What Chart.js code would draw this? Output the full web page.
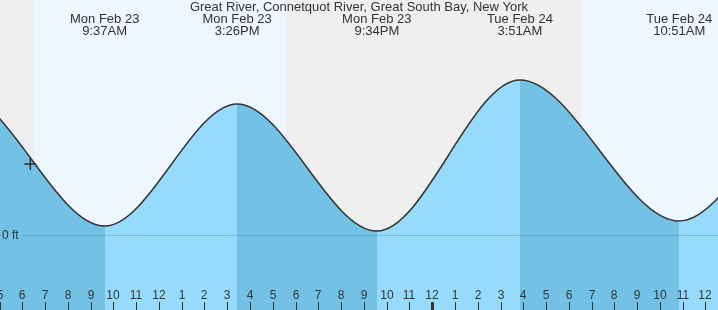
<!DOCTYPE html>
<html>
<head>
<meta charset="utf-8">
<script src="https://cdn.jsdelivr.net/npm/chart.js@4"></script>
<style>
html,body{margin:0;padding:0;background:#fff;overflow:hidden;}
#wrap{width:718px;height:310px;position:relative;}
</style>
</head>
<body>
<div id="wrap"><canvas id="c" width="718" height="310"></canvas></div>
<script>
// Hours counted from Mon Feb 23 00:00
const title = 'Great River, Connetquot River, Great South Bay, New York';
const extremeTimes   = [-3.1, 3.2, 9.617, 15.433, 21.567, 27.85, 34.85, 41.08, 47.3];
const extremeHeights = [0.12, 1.42, 0.09, 1.31, 0.04, 1.55, 0.14, 1.40, 0.12];
const labelTimes = [9.617, 15.433, 21.567, 27.85, 34.85];
const labelDates = ['Mon Feb 23', 'Mon Feb 23', 'Mon Feb 23', 'Tue Feb 24', 'Tue Feb 24'];
const labelClock = ['9:37AM', '3:26PM', '9:34PM', '3:51AM', '10:51AM'];
const nightStarts = [-8, 17.58];
const nightEnds   = [6.55, 30.53];
const tickHours = [5,6,7,8,9,10,11,12,13,14,15,16,17,18,19,20,21,22,23,24,25,26,27,28,29,30,31,32,33,34,35,36];
const tickLabels = tickHours.map(h => String((h % 12) || 12));
const nowTime = 6.35;
const nowHeight = 0.71;
const yLabel = '0 ft';

const DARK = '#73c1e5';
const LIGHT = '#97dbfc';
const FONT = '"Liberation Sans", Arial, sans-serif';

function fillGradient(ctx) {
  const chart = ctx.chart;
  const ca = chart.chartArea;
  const xs = chart.scales && chart.scales.x;
  if (!ca || !xs) return DARK;
  const g = chart.ctx.createLinearGradient(ca.left, 0, ca.right, 0);
  const w = ca.right - ca.left;
  const f = t => Math.min(1, Math.max(0, (xs.getPixelForValue(t) - ca.left) / w));
  for (let i = 0; i < extremeTimes.length - 1; i++) {
    const c = extremeHeights[i + 1] < extremeHeights[i] ? DARK : LIGHT;
    g.addColorStop(f(extremeTimes[i]), c);
    g.addColorStop(f(extremeTimes[i + 1]), c);
  }
  return g;
}

const bgPlugin = {
  id: 'bg',
  beforeDatasetsDraw(chart) {
    const {ctx, chartArea: ca} = chart;
    const xs = chart.scales.x;
    ctx.save();
    ctx.fillStyle = '#eef7ff';
    ctx.fillRect(ca.left, ca.top, ca.right - ca.left, ca.bottom - ca.top);
    ctx.fillStyle = '#efefef';
    for (let i = 0; i < nightStarts.length; i++) {
      const a = Math.max(ca.left, xs.getPixelForValue(nightStarts[i]));
      const b = Math.min(ca.right, xs.getPixelForValue(nightEnds[i]));
      if (b > a) ctx.fillRect(a, ca.top, b - a, ca.bottom - ca.top);
    }
    ctx.restore();
  },
  afterDatasetsDraw(chart) {
    const {ctx, chartArea: ca} = chart;
    const xs = chart.scales.x, ys = chart.scales.y;
    ctx.save();
    // zero line
    const y0 = Math.round(ys.getPixelForValue(0)) + 0.5;
    ctx.strokeStyle = 'rgba(40,110,170,0.3)';
    ctx.lineWidth = 1;
    ctx.beginPath(); ctx.moveTo(22, y0); ctx.lineTo(ca.right, y0); ctx.stroke();
    ctx.fillStyle = '#333';
    ctx.font = '12px ' + FONT;
    ctx.textAlign = 'left'; ctx.textBaseline = 'middle';
    ctx.fillText(yLabel, 2, y0);
    // x ticks
    ctx.textAlign = 'center';
    ctx.textBaseline = 'middle';
    ctx.font = '12px ' + FONT;
    tickHours.forEach((h, i) => {
      const x = Math.round(xs.getPixelForValue(h));
      ctx.fillStyle = '#333';
      ctx.fillText(tickLabels[i], x, 296);
      const w = (h % 24 === 0) ? 3 : 1;
      ctx.fillRect(x - Math.floor(w / 2), 302, w, 8);
    });
    // title and extreme labels
    ctx.font = '13px ' + FONT;
    ctx.fillStyle = '#333';
    ctx.textBaseline = 'middle';
    ctx.fillText(title, 359, 7);
    labelTimes.forEach((t, i) => {
      const x = xs.getPixelForValue(t);
      ctx.fillText(labelDates[i], x, 19);
      ctx.fillText(labelClock[i], x, 31);
    });
    ctx.restore();
  }
};

new Chart(document.getElementById('c'), {
  type: 'line',
  data: {
    datasets: [
      {
        data: [{x: nowTime, y: nowHeight}],
        showLine: false,
        fill: false,
        pointStyle: 'cross',
        pointRadius: 6,
        pointBorderWidth: 1.5,
        pointBorderColor: '#333',
        borderColor: '#333'
      },
      {
        data: extremeTimes.map((t, i) => ({x: t, y: extremeHeights[i]})),
        borderColor: '#333',
        borderWidth: 1.5,
        pointRadius: 0,
        cubicInterpolationMode: 'monotone',
        fill: 'start',
        backgroundColor: fillGradient
      }
    ]
  },
  options: {
    responsive: false,
    animation: false,
    events: [],
    layout: {padding: 0, autoPadding: false},
    plugins: {legend: {display: false}, tooltip: {enabled: false}, title: {display: false}},
    scales: {
      x: {type: 'linear', display: false, min: 5.02, max: 36.55},
      y: {type: 'linear', display: false, min: -0.75, max: 2.35}
    }
  },
  plugins: [bgPlugin]
});
</script>
</body>
</html>
